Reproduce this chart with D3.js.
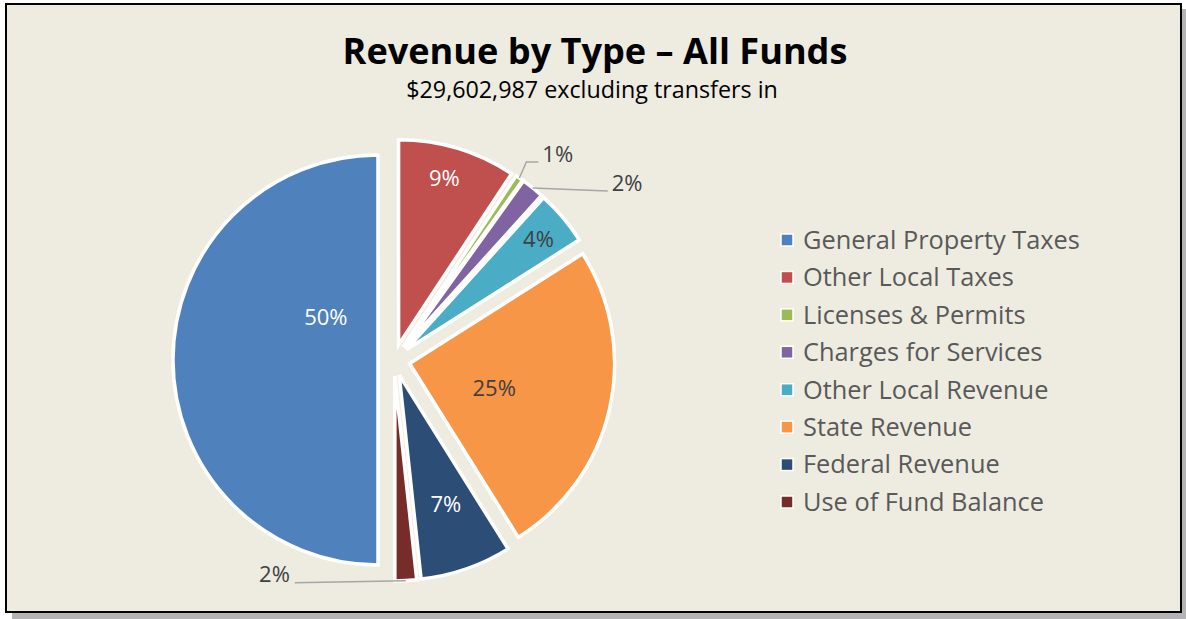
<!DOCTYPE html>
<html>
<head>
<meta charset="utf-8">
<script src="https://cdn.jsdelivr.net/npm/d3@7"></script>
<style>
  body { margin: 0; background: #fff; }
  svg { display: block; }
  text { font-family: "Open Sans", "Noto Sans", sans-serif; }
</style>
</head>
<body>
<svg id="chart" width="1186" height="619"></svg>
<script>
// data (dollars, total $29,602,987)
var categories = ["General Property Taxes", "Other Local Taxes", "Licenses & Permits",
  "Charges for Services", "Other Local Revenue", "State Revenue", "Federal Revenue",
  "Use of Fund Balance"];
var amounts = [14800987, 2753000, 178000, 533000, 1273000, 7430000, 2131000, 504000];
var pctLabels = ["50%", "9%", "1%", "2%", "4%", "25%", "7%", "2%"];
var colors = ["#4F81BD", "#C0504D", "#9BBB59", "#8064A2", "#4BACC6", "#F79646", "#2C4D75", "#772C2A"];

var svg = d3.select("#chart");

// shadow + frame
svg.append("rect").attr("x", 12).attr("y", 9).attr("width", 1174).attr("height", 610)
  .attr("fill", "#b4b4b4");
svg.append("rect").attr("x", 6).attr("y", 4).attr("width", 1175).attr("height", 608)
  .attr("fill", "#EEECE1").attr("stroke", "#000").attr("stroke-width", 2);

// fit a text to a given width by changing its font size
function fitText(sel, width) {
  var len = sel.node().getComputedTextLength();
  var fs = parseFloat(sel.attr("font-size"));
  sel.attr("font-size", fs * width / len);
  return fs * width / len;
}

var title = svg.append("text").attr("x", 595).attr("y", 64)
  .attr("text-anchor", "middle").attr("font-weight", "bold")
  .attr("font-size", 32).attr("fill", "#000")
  .text("Revenue by Type \u2013 All Funds");
fitText(title, 505);

var sub = svg.append("text").attr("x", 592).attr("y", 98)
  .attr("text-anchor", "middle").attr("font-size", 20).attr("fill", "#000")
  .text("$29,602,987 excluding transfers in");
fitText(sub, 372);

// pie
var cx = 394, cy = 360, R = 205, explode = 16;

var pie = d3.pie().sort(null).startAngle(Math.PI).endAngle(3 * Math.PI);
var arcs = pie(amounts);
var arc = d3.arc().innerRadius(0).outerRadius(R);

function mid(d) { return (d.startAngle + d.endAngle) / 2; }
function offset(d) {
  var a = mid(d);
  return [explode * Math.sin(a), -explode * Math.cos(a)];
}

var g = svg.append("g").attr("transform", "translate(" + cx + "," + cy + ")");

g.selectAll("path.slice").data(arcs).enter().append("path")
  .attr("class", "slice")
  .attr("transform", function (d) { var o = offset(d); return "translate(" + o[0] + "," + o[1] + ")"; })
  .attr("d", arc)
  .attr("fill", function (d, i) { return colors[i]; })
  .attr("stroke", "#fff").attr("stroke-width", 3.5).attr("stroke-linejoin", "miter");

// label placement: inside ones by radius fraction / angle fraction, outside ones with leaders
var labelPlace = [
  { inside: true, r: 0.33, t: 0.72, color: "#fff" },
  { inside: true, r: 0.84, t: 0.46, color: "#fff" },
  { inside: false, elbow: [7, -16], end: [19, -16], side: "right" },
  { inside: false, elbow: null, end: [75, 3], side: "right" },
  { inside: true, r: 0.84, t: 0.52, color: "#404040" },
  { inside: true, r: 0.43, t: 0.54, color: "#404040" },
  { inside: true, r: 0.67, t: 0.47, color: "#fff" },
  { inside: false, elbow: null, end: [-111, 2], side: "left" }
];
var labelSize = 22;

arcs.forEach(function (d, i) {
  var p = labelPlace[i], o = offset(d);
  if (p.inside) {
    var a = d.startAngle + p.t * (d.endAngle - d.startAngle);
    var rr = p.r * R;
    g.append("text")
      .attr("x", o[0] + rr * Math.sin(a))
      .attr("y", o[1] - rr * Math.cos(a))
      .attr("dy", "0.35em").attr("text-anchor", "middle")
      .attr("font-size", labelSize).attr("fill", p.color)
      .text(pctLabels[i]);
  } else {
    var a2 = mid(d);
    var sx = o[0] + R * Math.sin(a2), sy = o[1] - R * Math.cos(a2);
    var pts = [[sx, sy]];
    if (p.elbow) pts.push([sx + p.elbow[0], sy + p.elbow[1]]);
    pts.push([sx + p.end[0], sy + p.end[1]]);
    g.append("path").attr("d", d3.line()(pts))
      .attr("fill", "none").attr("stroke", "#A6A6A6").attr("stroke-width", 1.5);
    var last = pts[pts.length - 1];
    g.append("text")
      .attr("x", last[0] + (p.side === "right" ? 4 : -5))
      .attr("y", last[1] - 8)
      .attr("dy", "0.35em")
      .attr("text-anchor", p.side === "right" ? "start" : "end")
      .attr("font-size", labelSize).attr("fill", "#404040")
      .text(pctLabels[i]);
  }
});

// legend
var legY = d3.scalePoint().domain(categories).range([240, 502]);
var leg = svg.append("g");
var rows = leg.selectAll("g").data(categories).enter().append("g")
  .attr("transform", function (c) { return "translate(781," + legY(c) + ")"; });
rows.append("rect").attr("x", 0).attr("y", -6).attr("width", 12).attr("height", 12)
  .attr("fill", function (c, i) { return colors[i]; })
  .attr("stroke", "#fff").attr("stroke-width", 1.5);
var legText = rows.append("text").attr("x", 22).attr("dy", "0.35em")
  .attr("font-size", 23).attr("fill", "#595959")
  .text(function (c) { return c; });
// size all legend entries like the first one, which spans 803..1080
var legSize = fitText(d3.select(legText.nodes()[0]), 277);
legText.attr("font-size", legSize);
</script>
</body>
</html>
